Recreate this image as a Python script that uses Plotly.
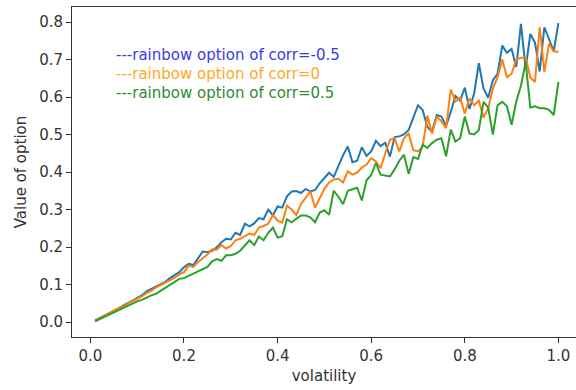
import numpy as np
import plotly.graph_objects as go

# volatility grid 0.01 .. 1.00
volatility = np.round(np.arange(1, 101) / 100, 2)

value_corr_neg05 = [
    0.004, 0.010, 0.017, 0.023, 0.030, 0.036, 0.044, 0.051, 0.058, 0.063,
    0.071, 0.082, 0.088, 0.094, 0.102, 0.107, 0.117, 0.126, 0.133, 0.146,
    0.155, 0.152, 0.170, 0.188, 0.186, 0.190, 0.199, 0.213, 0.222, 0.220,
    0.238, 0.232, 0.262, 0.255, 0.263, 0.277, 0.274, 0.300, 0.285, 0.308,
    0.305, 0.335, 0.348, 0.349, 0.344, 0.355, 0.348, 0.352, 0.370, 0.383,
    0.398, 0.387, 0.418, 0.445, 0.468, 0.426, 0.430, 0.466, 0.443, 0.455,
    0.483, 0.469, 0.478, 0.441, 0.493, 0.495, 0.500, 0.512, 0.545, 0.578,
    0.565, 0.520, 0.508, 0.552, 0.548, 0.523, 0.560, 0.603, 0.590, 0.625,
    0.568, 0.610, 0.690, 0.622, 0.598, 0.645, 0.662, 0.737, 0.718, 0.728,
    0.680, 0.795, 0.676, 0.768, 0.745, 0.668, 0.786, 0.755, 0.722, 0.797,
]

value_corr_0 = [
    0.003, 0.010, 0.016, 0.022, 0.029, 0.037, 0.042, 0.050, 0.056, 0.062,
    0.068, 0.077, 0.083, 0.092, 0.098, 0.104, 0.110, 0.118, 0.127, 0.133,
    0.150, 0.147, 0.160, 0.170, 0.180, 0.194, 0.193, 0.205, 0.196, 0.202,
    0.218, 0.222, 0.228, 0.236, 0.232, 0.252, 0.256, 0.262, 0.285, 0.270,
    0.265, 0.310, 0.300, 0.285, 0.315, 0.332, 0.348, 0.305, 0.330, 0.355,
    0.372, 0.380, 0.382, 0.372, 0.402, 0.393, 0.398, 0.412, 0.420, 0.437,
    0.428, 0.410, 0.450, 0.486, 0.490, 0.455, 0.490, 0.502, 0.458, 0.455,
    0.468, 0.550, 0.503, 0.548, 0.535, 0.517, 0.620, 0.588, 0.598, 0.556,
    0.596, 0.578, 0.590, 0.545, 0.570, 0.622, 0.653, 0.700, 0.653, 0.662,
    0.700, 0.705, 0.705, 0.652, 0.640, 0.786, 0.667, 0.742, 0.722, 0.720,
]

value_corr_pos05 = [
    0.002, 0.008, 0.014, 0.020, 0.025, 0.031, 0.038, 0.044, 0.050, 0.055,
    0.059, 0.066, 0.071, 0.075, 0.083, 0.090, 0.098, 0.106, 0.115, 0.117,
    0.123, 0.128, 0.136, 0.140, 0.147, 0.162, 0.168, 0.163, 0.178, 0.178,
    0.182, 0.190, 0.205, 0.218, 0.205, 0.228, 0.218, 0.238, 0.252, 0.225,
    0.229, 0.274, 0.266, 0.276, 0.284, 0.284, 0.279, 0.266, 0.292, 0.298,
    0.286, 0.350, 0.334, 0.314, 0.350, 0.354, 0.358, 0.324, 0.378, 0.392,
    0.424, 0.393, 0.390, 0.388, 0.407, 0.430, 0.446, 0.395, 0.440, 0.435,
    0.473, 0.464, 0.477, 0.486, 0.490, 0.442, 0.513, 0.481, 0.490, 0.548,
    0.503, 0.500, 0.512, 0.587, 0.572, 0.500, 0.578, 0.587, 0.575, 0.526,
    0.588, 0.630, 0.693, 0.572, 0.575, 0.570, 0.570, 0.566, 0.552, 0.640,
]

label_texts = [
    "---rainbow option of corr=-0.5",
    "---rainbow option of corr=0",
    "---rainbow option of corr=0.5",
]
label_y = [0.713, 0.662, 0.612]
label_colors = ["#3a3ae8", "#ffa726", "#2e8b2e"]

line_colors = ["#1f77b4", "#ff7f0e", "#2ca02c"]
series = [value_corr_neg05, value_corr_0, value_corr_pos05]

font = "DejaVu Sans, Verdana, sans-serif"
ink = "#333333"
fsize = 15

fig = go.Figure()
for vals, col in zip(series, line_colors):
    fig.add_trace(go.Scatter(
        x=volatility, y=vals, mode="lines",
        line=dict(color=col, width=2),
        showlegend=False,
    ))

for txt, yy, col in zip(label_texts, label_y, label_colors):
    fig.add_annotation(
        x=0.051, y=yy, xref="x", yref="y", text=txt, showarrow=False,
        xanchor="left", yanchor="middle",
        font=dict(family=font, size=fsize, color=col),
    )

fig.update_layout(
    width=576, height=390,
    margin=dict(l=72, r=0, t=7, b=53),
    paper_bgcolor="white", plot_bgcolor="white",
    font=dict(family=font, size=fsize, color=ink),
)
fig.update_xaxes(
    range=[-0.0393, 1.0376],
    tickvals=[0.0, 0.2, 0.4, 0.6, 0.8, 1.0],
    ticktext=["0.0", "0.2", "0.4", "0.6", "0.8", "1.0"],
    ticks="outside", ticklen=5, tickwidth=1, tickcolor=ink,
    showline=True, linecolor=ink, linewidth=1, mirror=True,
    showgrid=False, zeroline=False,
    title=dict(text="volatility", standoff=6, font=dict(size=fsize)),
)
fig.update_yaxes(
    range=[-0.04, 0.84],
    tickvals=[0.0, 0.1, 0.2, 0.3, 0.4, 0.5, 0.6, 0.7, 0.8],
    ticktext=["0.0", "0.1", "0.2", "0.3", "0.4", "0.5", "0.6", "0.7", "0.8"],
    ticks="outside", ticklen=5, tickwidth=1, tickcolor=ink,
    showline=True, linecolor=ink, linewidth=1, mirror=False,
    showgrid=False, zeroline=False,
    title=dict(text="Value of option", standoff=8, font=dict(size=fsize)),
)

fig.write_html("out.html")
